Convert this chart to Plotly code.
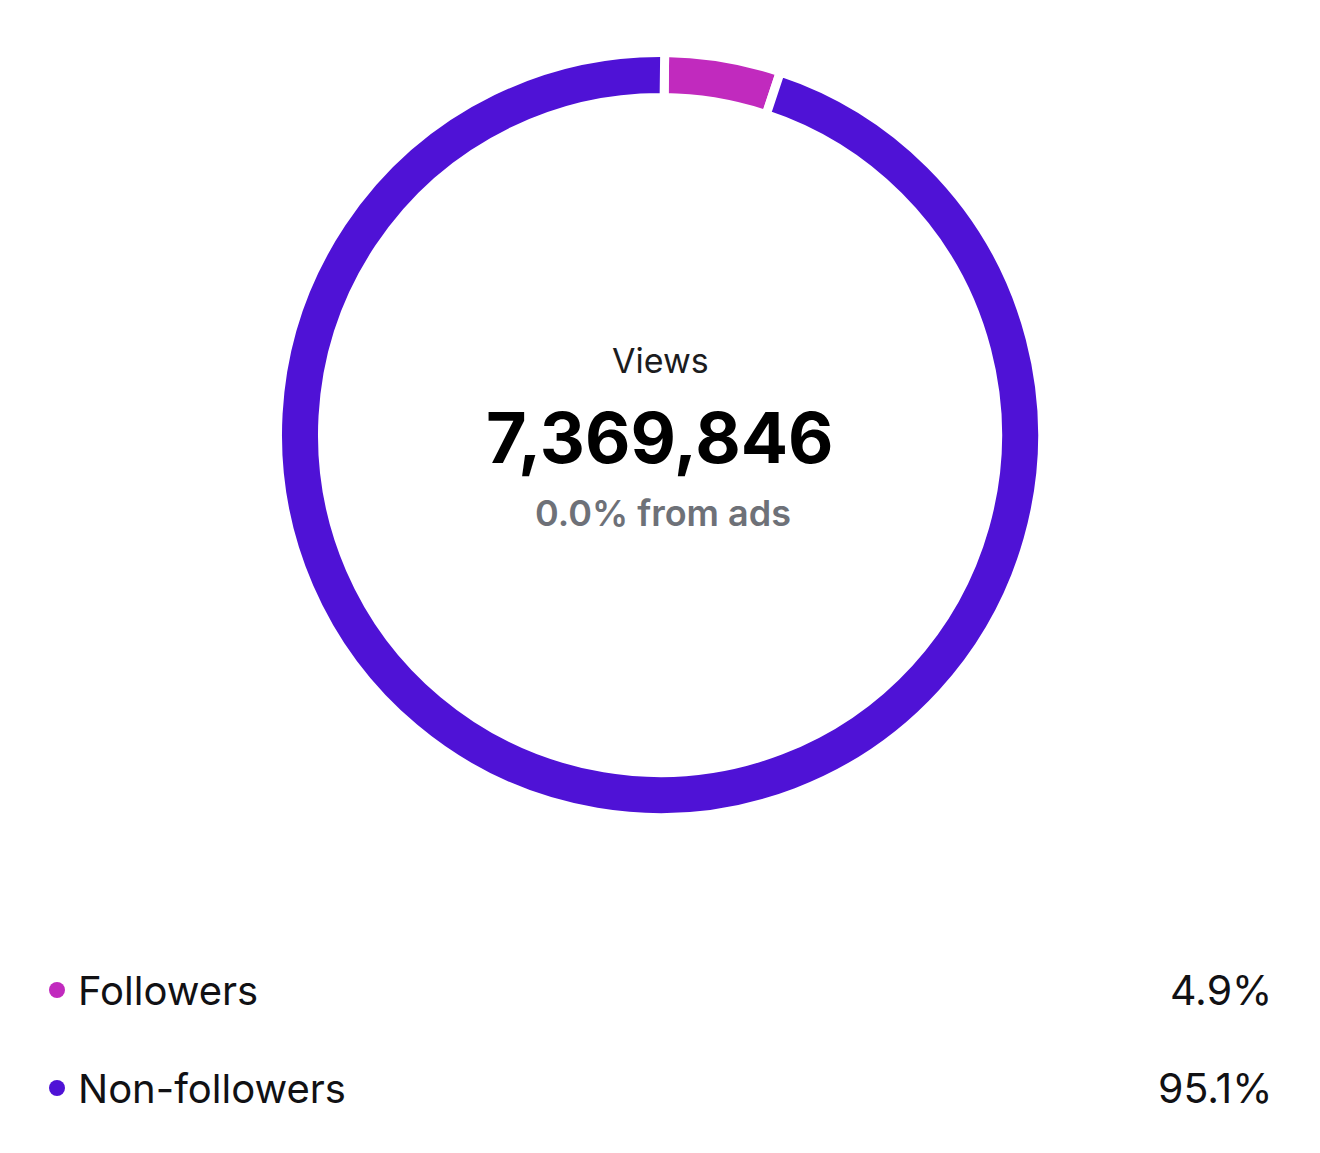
import plotly.graph_objects as go

# data
categories = ["Followers", "Non-followers"]
shares = [4.9, 95.1]
colors = ["#C12ABE", "#4F12D6"]
total_views = 7369846
ads_share = 0.0

W, H = 1320, 1153
OFF = 8  # page body margin pushes the plot down/right by this much
FONT = "Inter, 'Noto Sans', sans-serif"


def px(x):
    return (x - OFF) / W


def py(y):
    return (H - (y - OFF)) / H


fig = go.Figure()

# ring: white slice borders give the gaps, domain padded so the visible band is 342..378 px
cx, cy = 660, 435
gap = 9
r_out = 378 + gap / 2
r_in = 342 - gap / 2
fig.add_trace(go.Pie(
    labels=categories,
    values=shares,
    hole=r_in / r_out,
    sort=False,
    direction="clockwise",
    rotation=0.7,
    marker=dict(colors=colors, line=dict(color="white", width=gap)),
    textinfo="none",
    hoverinfo="label+percent",
    showlegend=False,
    domain=dict(x=[px(cx - r_out), px(cx + r_out)], y=[py(cy + r_out), py(cy - r_out)]),
))

# legend dots on a hidden category axis
fig.add_trace(go.Scatter(
    x=[0] * len(categories),
    y=categories,
    mode="markers",
    marker=dict(size=16, color=colors),
    hoverinfo="skip",
    showlegend=False,
))

fig.update_layout(
    width=W,
    height=H,
    margin=dict(l=0, r=0, t=0, b=0),
    paper_bgcolor="white",
    plot_bgcolor="white",
    font=dict(family=FONT),
    xaxis=dict(domain=[px(47), px(67)], range=[-1, 1], visible=False, fixedrange=True),
    yaxis=dict(domain=[py(990 + 147), py(990 - 49)], range=[1.5, -0.5], type="category",
               categoryorder="array", categoryarray=categories,
               visible=False, fixedrange=True),
)

# centre text
fig.add_annotation(text="Views", x=px(cx), y=py(360), xref="paper", yref="paper",
                   xanchor="center", yanchor="middle", showarrow=False,
                   font=dict(size=34, color="#1C1C1E"))
fig.add_annotation(text=f"{total_views:,}", x=px(cx), y=py(437), xref="paper", yref="paper",
                   xanchor="center", yanchor="middle", showarrow=False,
                   font=dict(size=70, color="#000000", weight="bold"))
fig.add_annotation(text=f"{ads_share:.1f}% from ads", x=px(663), y=py(513),
                   xref="paper", yref="paper", xanchor="center", yanchor="middle",
                   showarrow=False, font=dict(size=36, color="#6E7178", weight=600))

# legend labels and values
for cat, val in zip(categories, shares):
    fig.add_annotation(text=cat, x=px(76), y=cat, xref="paper", yref="y",
                       xanchor="left", yanchor="middle", showarrow=False,
                       font=dict(size=40, color="#111114"))
    fig.add_annotation(text=f"{val:.1f}%", x=px(1274), y=cat, xref="paper", yref="y",
                       xanchor="right", yanchor="middle", showarrow=False,
                       font=dict(size=41, color="#111114"))

fig.write_html("out.html")
